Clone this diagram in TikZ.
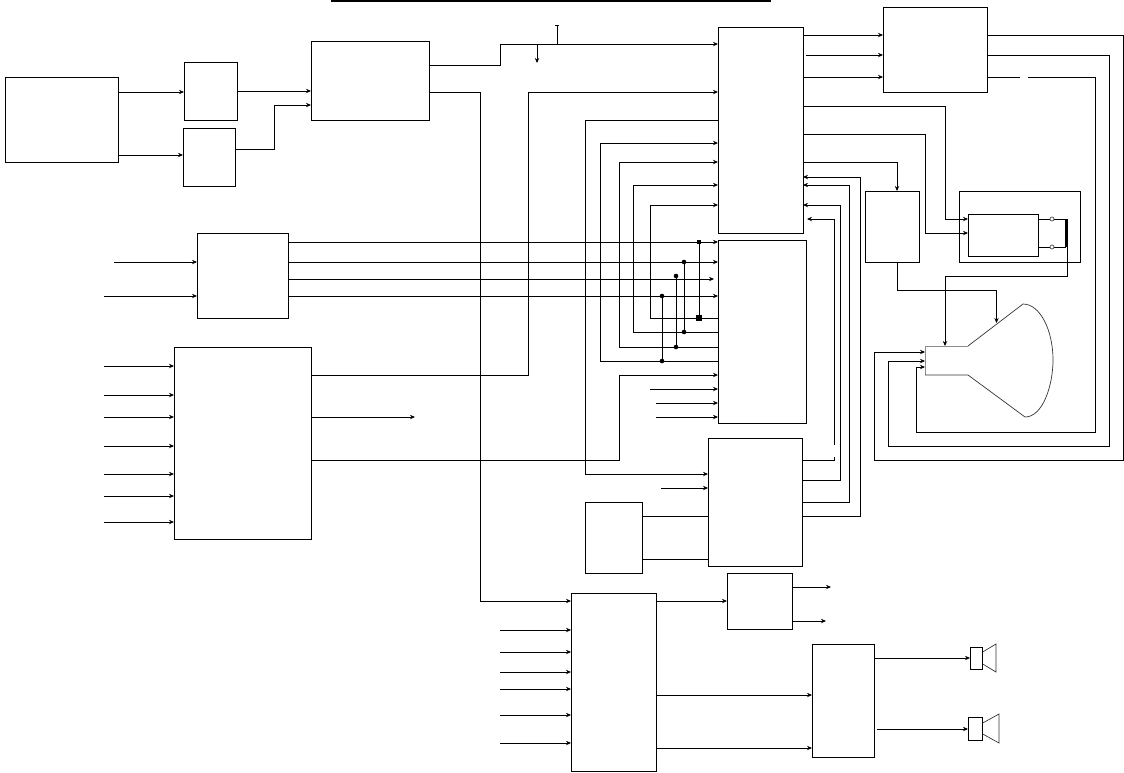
\documentclass[tikz,border=0pt]{standalone}
\usetikzlibrary{arrows.meta}
\tikzset{
  blk/.style={draw=black,line width=0.9pt,fill=none,inner sep=0pt,outer sep=0pt,anchor=north west},
  wire/.style={draw=black,line width=0.9pt,line join=miter},
  arr/.style={wire,-{Stealth[length=5pt,width=4.4pt]}},
  dotj/.style={circle,fill=black,inner sep=0pt,minimum size=4.6pt,outer sep=0pt},
  sqj/.style={rectangle,fill=black,inner sep=0pt,minimum size=4.6pt,outer sep=0pt},
  ring/.style={circle,draw=black!70,line width=0.7pt,fill=white,inner sep=0pt,minimum size=4pt},
  tube/.style={draw=black!80,line width=0.7pt},
}
\newcommand{\bx}[5]{\node[blk,minimum width={(#4-#2)*1pt},minimum height={(#5-#3)*1pt}] (#1) at (#2,#3) {};}
\newcommand{\pt}[3]{\coordinate (#1) at (#2,#3);}
\begin{document}
\begin{tikzpicture}[x=1pt,y=-1pt]
\useasboundingbox (0,0) rectangle (1124,772);
\fill[black] (331,0) rectangle (771,2.2);
% blocks
\bx{A}{5}{77}{118}{162}
\bx{B}{184}{62}{237}{120}
\bx{C}{183}{128}{235}{186}
\bx{D}{311}{41}{429}{120}
\bx{E}{718}{27}{803}{233}
\bx{F}{883}{7}{987}{92}
\bx{G}{865}{191}{919}{262}
\bx{H}{959}{191}{1080}{262}
\bx{I}{968}{214}{1038}{256}
\bx{J}{197}{233}{288}{318}
\bx{K}{174}{347}{311}{539}
\bx{L}{718}{240}{806}{423}
\bx{M}{708}{438}{802}{566}
\bx{N}{585}{502}{642}{573}
\bx{O}{727}{573}{792}{629}
\bx{P}{571}{593}{656}{771}
\bx{Q}{812}{644}{874}{757}
\bx{SA}{970}{647}{982}{669}
\bx{SB}{968}{717}{982}{740}
% speaker cones
\draw[tube] (982.7,652) -- (996,644) -- (996,672) -- (982.7,664);
\draw[tube] (982.7,723) -- (999,714) -- (999,743) -- (982.7,734);
% CRT
\pt{crtN}{945}{346}\pt{crtF}{996.5}{323}
\pt{crtA}{925}{352}\pt{crtB}{925}{361}\pt{crtC}{925}{367}
\draw[draw=black!45,line width=0.8pt] (925,375) -- (925,346) -- (968,346);
\draw[tube] (925,375) -- (968,375) -- (1025,417)
  .. controls (1043,417) and (1053,385) .. (1053,360)
  .. controls (1053,330) and (1040,304) .. (1023,304) -- (968,346);
% A-D
\draw[arr] (A.east |- 0,92) -- (B.west |- 0,92);
\draw[arr] (A.east |- 0,155) -- (C.west |- 0,155);
\draw[arr] (B.east |- 0,91) -- (D.west |- 0,91);
\draw[arr] (C.east |- 0,149) -| (274,105) -- (D.west |- 0,105);
% D outputs
\draw[arr] (D.east |- 0,65) -| (500,44) -- (E.west |- 0,44);
\pt{tapA}{537}{63}\pt{tapB}{557}{25}\pt{busA}{537}{44}\pt{busB}{557}{44}
\draw[arr] (busA) -- (tapA);
\draw[wire,-{Bar[width=4pt,line width=1pt]}] (busB) -- (tapB);
\draw[arr] (D.east |- 0,92) -| (480,601) -- (P.west |- 0,601);
% K to E, L
\draw[arr] (K.east |- 0,375) -| (528,92) -- (E.west |- 0,92);
\pt{kout}{415}{417}
\draw[arr] (K.east |- 0,417) -- (kout);
\draw[arr] (K.east |- 0,460) -| (619,375) -- (L.west |- 0,375);
% E left side loops
\draw[arr] (E.west |- 0,120) -| (585,474) -- (M.west |- 0,474);
\draw[arr] (L.west |- 0,361) -| (600,143) -- (E.west |- 0,143);
\draw[arr] (L.west |- 0,347) -| (619,162) -- (E.west |- 0,162);
\draw[arr] (L.west |- 0,332) -| (633,185) -- (E.west |- 0,185);
\draw[arr] (L.west |- 0,318) -| (650,205) -- (E.west |- 0,205);
% J to L
\pt{lshort}{714}{279}
\draw[arr] (J.east |- 0,242) -- (L.west |- 0,242);
\draw[arr] (J.east |- 0,262) -- (L.west |- 0,262);
\draw[arr] (J.east |- 0,279) -- (lshort);
\draw[arr] (J.east |- 0,296) -- (L.west |- 0,296);
% junction links
\node[sqj] (s1) at (699,242) {}; \node[sqj,minimum size=5.2pt] (s2) at (699,318) {};
\node[dotj] (d1) at (684,262) {}; \node[dotj] (d2) at (684,332) {};
\node[dotj] (d3) at (676,276) {}; \node[dotj] (d4) at (676,347) {};
\node[dotj] (d5) at (662,296) {}; \node[dotj] (d6) at (662,361) {};
\draw[wire] (s1) -- (s2);
\draw[wire] (d1) -- (d2);
\draw[wire] (d3) -- (d4);
\draw[wire] (d5) -- (d6);
% free inputs
\pt{la}{650}{389}\pt{lb}{656}{403}\pt{lc}{656}{417}\pt{ma}{661}{488}
\draw[arr] (la) -- (L.west |- la);
\draw[arr] (lb) -- (L.west |- lb);
\draw[arr] (lc) -- (L.west |- lc);
\draw[arr] (ma) -- (M.west |- ma);
\pt{ja}{114}{262}\pt{jb}{104}{296}
\draw[arr] (ja) -- (J.west |- ja);
\draw[arr] (jb) -- (J.west |- jb);
\foreach \y in {366,395,417,446,474,496,522}{
  \coordinate (k\y) at (104,\y);
  \draw[arr] (k\y) -- (K.west |- k\y);
}
\foreach \y in {630,652,672,689,715,743}{
  \coordinate (p\y) at (500,\y);
  \draw[arr] (p\y) -- (P.west |- p\y);
}
% N to M
\draw[wire] (N.east |- 0,516) -- (M.west |- 0,516);
\draw[wire] (N.east |- 0,559) -- (M.west |- 0,559);
% M to E
\pt{gapA}{834}{457}\pt{gapB}{834}{445}\pt{eshort}{807}{219}
\draw[wire] (M.east |- 0,460) -| (gapA);
\draw[arr] (gapB) |- (eshort);
\draw[arr] (M.east |- 0,480) -| (840,205) -- (E.east |- 0,205);
\draw[arr] (M.east |- 0,502) -| (849.5,185) -- (E.east |- 0,185);
\draw[arr] (M.east |- 0,516) -| (860,177) -- (E.east |- 0,177);
% E to F
\pt{estart}{806}{55}
\draw[arr] (E.east |- 0,35) -- (F.west |- 0,35);
\draw[arr] (estart) -- (F.west |- 0,55);
\draw[arr] (E.east |- 0,77) -- (F.west |- 0,77);
% F to CRT
\draw[arr] (F.east |- 0,35) -| (1123.5,460) -- (874.5,460) |- (crtA);
\draw[arr] (F.east |- 0,55) -| (1109,446) -- (888,446) |- (crtB);
\pt{fgapA}{1020}{77}\pt{fgapB}{1028}{77}
\draw[wire] (F.east |- 0,77) -- (fgapA);
\draw[arr] (fgapB) -| (1095,432) -- (916.5,432) |- (crtC);
% E to I, G
\draw[arr] (E.east |- 0,106) -| (945.5,219) -- (I.west |- 0,219);
\draw[arr] (E.east |- 0,134) -| (925,233) -- (I.west |- 0,233);
\draw[arr] (E.east |- 0,162) -| (G.north -| 897,0);
% G to CRT
\draw[arr] (G.south -| 897,0) |- (996.5,290) -- (crtF);
% I coil
\pt{coilA}{1066}{219}\pt{coilB}{1066}{247}
\draw[wire] (I.east |- coilA) -- (coilA);
\draw[wire] (I.east |- coilB) -- (coilB);
\draw[line width=3pt] (coilA) -- (coilB);
\node[ring] (ra) at (1052,219) {};
\node[ring] (rb) at (1052,247) {};
\draw[arr] (1067.3,247) |- (945,276) -- (crtN);
% P, O, Q
\draw[arr] (P.east |- 0,601) -- (O.west |- 0,601);
\pt{oa}{831}{587}\pt{ob}{826}{621}
\draw[arr] (O.east |- oa) -- (oa);
\draw[arr] (O.east |- ob) -- (ob);
\draw[arr] (P.east |- 0,695) -- (Q.west |- 0,695);
\draw[arr] (P.east |- 0,748) -- (Q.west |- 0,748);
\pt{qb}{877}{729}
\draw[arr] (Q.east |- 0,658) -- (SA.west |- 0,658);
\draw[arr] (qb) -- (SB.west |- qb);
\end{tikzpicture}
\end{document}
